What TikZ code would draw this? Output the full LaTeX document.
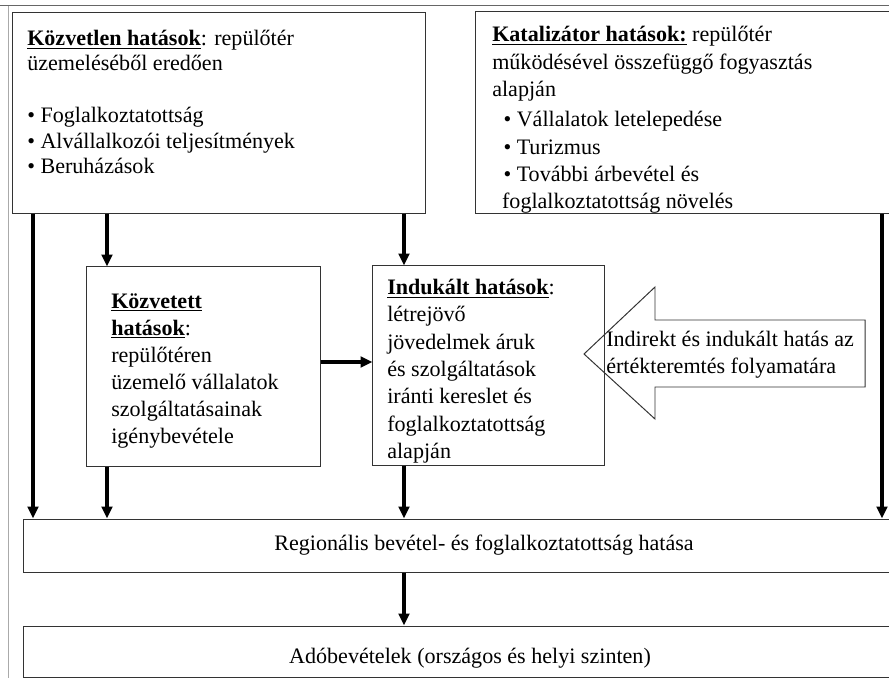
\documentclass[tikz,border=0pt]{standalone}
\usepackage{fontspec}
\setmainfont{Liberation Serif}
\usetikzlibrary{arrows.meta}
\definecolor{framec}{RGB}{170,170,170}
\newcommand{\fej}[1]{\underline{\textbf{#1}}}
\tikzset{
  box/.style={rectangle,draw=black!80,line width=0.7pt,inner sep=0pt,font=\fontsize{15.7}{19}\selectfont},
  txt/.style={anchor=north west,inner sep=0pt,align=left,font=\fontsize{15.7}{19.2}\selectfont},
  % thick flow arrows between the boxes
  flow/.style={-{Triangle[length=8.5pt,width=7.5pt]},line width=2.3pt,black},
}
\begin{document}
\begin{tikzpicture}[x=0.025cm,y=-0.025cm]
  \clip (0,0) rectangle (889,678);
  % ---- page frame ----
  \draw[framec,line width=0.5pt] (8,678) -- (8,5);
  \draw[black!60,line width=0.6pt] (0,5) -- (889,5);
  % ---- top row: direct and catalytic effects ----
  \node[box,minimum width=10.3cm,minimum height=5cm] (kozvetlen) at (219,113) {};
  \node[txt,font=\fontsize{15.7}{18}\selectfont] (tKozvetlen) at (27,30)
    {\fej{Közvetlen hatások}: repülőtér\\ üzemeléséből eredően\\[19pt]
     \textbullet\ Foglalkoztatottság\\ \textbullet\ Alvállalkozói teljesítmények\\
     \textbullet\ Beruházások};
  \node[box,minimum width=11.85cm,minimum height=5.025cm] (katalizator) at (713,112.5) {};
  \node[txt,font=\fontsize{15.7}{19.5}\selectfont] (tKatalizator) at (492,26)
    {\fej{Katalizátor hatások:} repülőtér\\ működésével összefüggő fogyasztás\\ alapján\\[2pt]
     \hspace*{8pt}\textbullet\ Vállalatok letelepedése\\ \hspace*{8pt}\textbullet\ Turizmus\\
     \hspace*{8pt}\textbullet\ További árbevétel és\\ \hspace*{7pt}foglalkoztatottság növelés};
  % ---- middle row: indirect and induced effects ----
  \node[box,minimum width=5.825cm,minimum height=4.975cm] (kozvetett) at (203.5,366.5) {};
  \node[txt] (tKozvetett) at (111,293)
    {\fej{Közvetett}\\ \fej{hatások}:\\ repülőtéren\\ üzemelő vállalatok\\
     szolgáltatásainak\\ igénybevétele};
  \node[box,minimum width=5.775cm,minimum height=4.975cm] (indukalt) at (488.5,365.5) {};
  \node[txt,font=\fontsize{15.7}{19.4}\selectfont] (tIndukalt) at (387,279)
    {\fej{Indukált hatások}:\\ létrejövő\\ jövedelmek áruk\\ és szolgáltatások\\
     iránti kereslet és\\ foglalkoztatottság\\ alapján};
  % the big hollow arrow pointing at the induced effects
  \draw[black!80,line width=0.7pt] (584,354) -- (655,287) -- (655,320) -- (865,320)
    -- (865,387) -- (655,387) -- (655,419) -- cycle;
  \node[txt] (nyil) at (606,331) {Indirekt és indukált hatás az\\ értékteremtés folyamatára};
  % ---- bottom rows ----
  \node[box,minimum width=23cm,minimum height=1.325cm] (reg) at (484,545.5)
    {Regionális bevétel- és foglalkoztatottság hatása};
  % text sits a little low in this box
  \node[box,minimum width=22.3cm,minimum height=1.275cm,text height=17pt,text depth=0pt] (ado) at (470,651.5)
    {Adóbevételek (országos és helyi szinten)};
  % ---- arrows ----
  \coordinate (c1) at (33,0);
  \coordinate (c2) at (107,0);
  \coordinate (c3) at (404,0);
  \coordinate (c4) at (882,0);
  \coordinate (sor) at (0,362);
  \draw[flow] (kozvetlen.south -| c1) -- (reg.north -| c1);
  \draw[flow] (kozvetlen.south -| c2) -- (kozvetett.north -| c2);
  \draw[flow] (kozvetlen.south -| c3) -- (indukalt.north -| c3);
  \draw[flow] (katalizator.south -| c4) -- (reg.north -| c4);
  \draw[flow] (kozvetett.south -| c2) -- (reg.north -| c2);
  \draw[flow] (indukalt.south -| c3) -- (reg.north -| c3);
  \draw[flow] (kozvetett.east |- sor) -- (indukalt.west |- sor);
  \draw[flow] (reg.south -| c3) -- (ado.north -| c3);
\end{tikzpicture}
\end{document}
